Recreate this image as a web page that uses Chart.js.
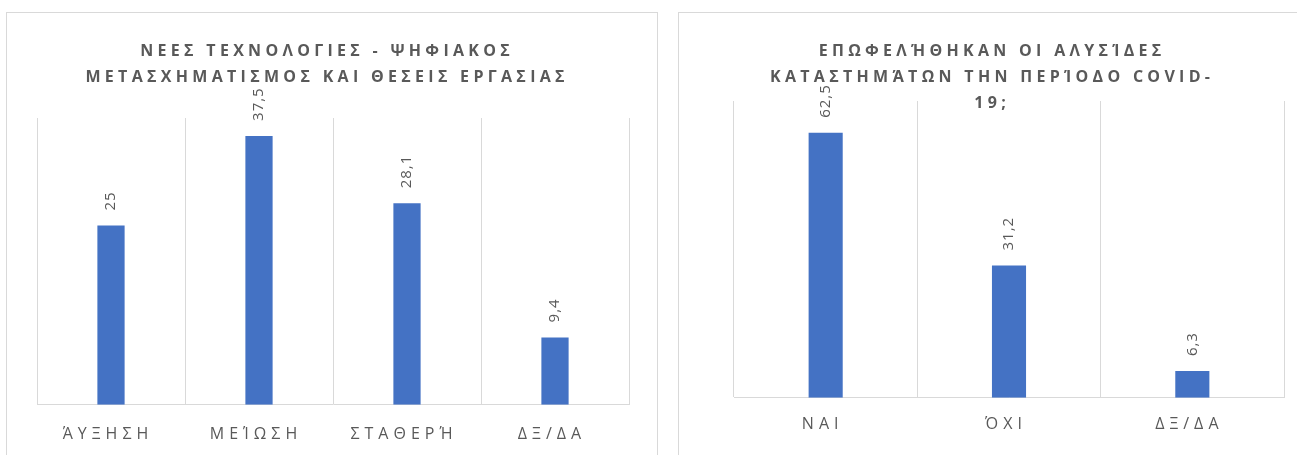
<!DOCTYPE html>
<html><head><meta charset="utf-8">
<script src="https://cdn.jsdelivr.net/npm/chart.js@4.4.1/dist/chart.umd.min.js"></script>
<style>
html,body{margin:0;padding:0;background:#fff;width:1297px;height:455px;overflow:hidden;}
.frame{position:absolute;border:1.5px solid #d9d9d9;box-sizing:border-box;}
canvas{position:absolute;top:0;}
</style></head><body>
<div class="frame" style="left:6px;top:12px;width:652px;height:460px"></div>
<div class="frame" style="left:678px;top:12px;width:640px;height:460px"></div>
<canvas id="c1" width="660" height="480" style="left:0px"></canvas>
<canvas id="c2" width="637" height="480" style="left:660px"></canvas>
<script>
// ---- data ----
const categories1 = ['ΆΥΞΗΣΗ', 'ΜΕΊΩΣΗ', 'ΣΤΑΘΕΡΉ', 'ΔΞ/ΔΑ'];
const values1 = [25, 37.5, 28.1, 9.4];
const title1 = ['ΝΕΕΣ ΤΕΧΝΟΛΟΓΙΕΣ - ΨΗΦΙΑΚΟΣ', 'ΜΕΤΑΣΧΗΜΑΤΙΣΜΟΣ ΚΑΙ ΘΕΣΕΙΣ ΕΡΓΑΣΙΑΣ'];
const yMax1 = 40;

const categories2 = ['ΝΑΙ', 'ΌΧΙ', 'ΔΞ/ΔΑ'];
const values2 = [62.5, 31.2, 6.3];
const title2 = ['ΕΠΩΦΕΛΉΘΗΚΑΝ ΟΙ ΑΛΥΣΊΔΕΣ', 'ΚΑΤΑΣΤΗΜΆΤΩΝ ΤΗΝ ΠΕΡΊΟΔΟ COVID-', '19;'];
const yMax2 = 70;

// ---- styling ----
const BAR = '#4472c4';
const GRID = '#d9d9d9';
const TEXT = '#595959';
const FONT = '"Open Sans", "DejaVu Sans", sans-serif';
const TICK_SPACING = 5;

const spacingPlugin = {
  id: 'spacing',
  beforeDraw(chart) { chart.ctx.letterSpacing = TICK_SPACING + 'px'; },
  afterDraw(chart) { chart.ctx.letterSpacing = '0px'; }
};

const valueLabels = {
  id: 'valueLabels',
  afterDatasetsDraw(chart, args, opts) {
    const ctx = chart.ctx;
    const meta = chart.getDatasetMeta(0);
    const data = chart.data.datasets[0].data;
    ctx.save();
    ctx.letterSpacing = opts.spacing + 'px';
    ctx.font = opts.font;
    ctx.fillStyle = opts.color;
    ctx.textAlign = 'left';
    ctx.textBaseline = 'middle';
    meta.data.forEach((el, i) => {
      const txt = String(data[i]).replace('.', ',');
      ctx.save();
      ctx.translate(el.x, el.y - opts.offset);
      ctx.rotate(-Math.PI / 2);
      ctx.fillText(txt, 0, 0);
      ctx.restore();
    });
    ctx.restore();
  }
};

const titleText = {
  id: 'titleText',
  afterDraw(chart, args, opts) {
    const ctx = chart.ctx;
    ctx.save();
    ctx.font = opts.font;
    ctx.fillStyle = opts.color;
    ctx.letterSpacing = opts.spacing + 'px';
    ctx.textAlign = 'left';
    ctx.textBaseline = 'middle';
    opts.lines.forEach((line, i) => {
      const w = ctx.measureText(line).width - opts.spacing;
      ctx.fillText(line, opts.cx - w / 2, opts.y0 + i * opts.lineHeight);
    });
    ctx.restore();
  }
};

function makeChart(id, cats, vals, yMax, title, cfg) {
  return new Chart(document.getElementById(id), {
    type: 'bar',
    data: {
      labels: cats,
      datasets: [{ data: vals, backgroundColor: BAR, borderWidth: 0,
                   barPercentage: cfg.barPct, categoryPercentage: 1 }]
    },
    options: {
      responsive: false,
      animation: false,
      devicePixelRatio: 1,
      layout: { padding: cfg.padding },
      plugins: {
        legend: { display: false },
        title: { display: false },
        tooltip: { enabled: false },
        valueLabels: { font: '15px ' + FONT, color: TEXT, spacing: 1, offset: 15 },
        titleText: { lines: title, font: 'bold 16px ' + FONT, color: TEXT, spacing: 4.3,
                     cx: cfg.titleX, y0: 51, lineHeight: 26 }
      },
      scales: {
        x: {
          grid: { color: GRID, lineWidth: 1, offset: true, drawTicks: false },
          border: { color: GRID, width: 1 },
          ticks: { color: TEXT, font: { family: FONT, size: 16 }, padding: cfg.tickPad,
                   maxRotation: 0, autoSkip: false, labelOffset: -3 }
        },
        y: { display: false, min: 0, max: yMax }
      }
    },
    plugins: [spacingPlugin, valueLabels, titleText]
  });
}

makeChart('c1', categories1, values1, yMax1, title1, {
  padding: { top: 118, left: 37, right: 31, bottom: 16 },
  tickPad: 20, barPct: 0.184, titleX: 325
});
makeChart('c2', categories2, values2, yMax2, title2, {
  padding: { top: 101, left: 74, right: 13, bottom: 29 },
  tickPad: 17, barPct: 0.186, titleX: 330
});
</script>
</body></html>
